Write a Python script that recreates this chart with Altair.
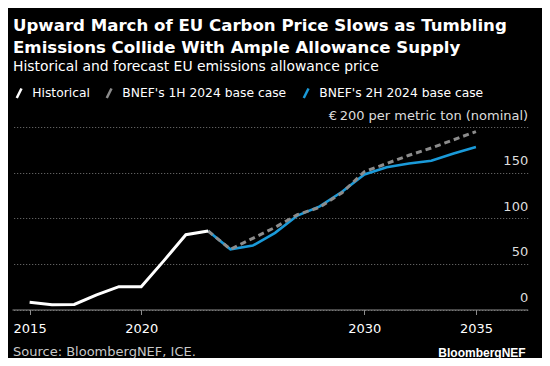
import altair as alt
import pandas as pd

TITLE = ["Upward March of EU Carbon Price Slows as Tumbling",
         "Emissions Collide With Ample Allowance Supply"]
SUBTITLE = "Historical and forecast EU emissions allowance price"
SERIES = ["Historical", "BNEF's 1H 2024 base case", "BNEF's 2H 2024 base case"]
COLORS = ["#ffffff", "#8c8c8c", "#1a9ad9"]

hist_years = [2015, 2016, 2017, 2018, 2019, 2020, 2021, 2022, 2023]
hist_values = [7.9, 5.3, 5.5, 16, 25, 25, 53, 82, 86]

fc_years = [2023, 2024, 2025, 2026, 2027, 2028, 2029, 2030, 2031, 2032, 2033, 2034, 2035]
h1_values = [86, 66, 78, 90, 104, 112, 128, 151, 160, 169, 177, 186, 195]
h2_values = [86, 66, 70, 84, 103, 113, 129, 148, 156, 160, 163, 171, 178]

x_ticks = [2015, 2020, 2030, 2035]
y_ticks = [0, 50, 100, 150, 200]
Y_TOP_LABEL = "€\u2009200 per metric ton (nominal)"
SOURCE = ["Source: BloombergNEF, ICE."]
BRAND = ["BloombergNEF"]

W, H = 515.7, 182.5

df_hist = pd.DataFrame({"year": hist_years, "value": hist_values, "series": SERIES[0]})
df_h1 = pd.DataFrame({"year": fc_years, "value": h1_values, "series": SERIES[1]})
df_h2 = pd.DataFrame({"year": fc_years, "value": h2_values, "series": SERIES[2]})

xscale = alt.Scale(domain=[2014.21, 2037.32], nice=False, zero=False)
yscale = alt.Scale(domain=[0, 200], nice=False)

xaxis = alt.Axis(values=x_ticks, format="d", title=None, grid=False,
                 domainColor="#8c8c8c", tickColor="#8c8c8c", tickSize=5,
                 labelColor="#ffffff", labelFontSize=13, labelFont="DejaVu Sans",
                 labelPadding=8)
yaxis = alt.Axis(orient="right", values=y_ticks, title=None, domain=False,
                 ticks=False, tickSize=0, labelAlign="right", labelPadding=0,
                 labelBaseline="alphabetic", labelOffset=-8, labelLimit=0,
                 labelExpr=f"datum.value == 200 ? '{Y_TOP_LABEL}' : datum.label",
                 grid=True, gridDash=[1, 2], gridColor="#777777", gridWidth=1,
                 labelColor="#dddddd", labelFontSize=13, labelFont="DejaVu Sans")

color = alt.Color("series:N", scale=alt.Scale(domain=SERIES, range=COLORS),
                  legend=alt.Legend(title=None, orient="none", legendX=1, legendY=-40,
                                    direction="horizontal", labelLimit=0,
                                    symbolType="M-0.5,1L0.5,-1", symbolSize=90,
                                    symbolStrokeWidth=2.5, labelColor="#ffffff",
                                    labelFontSize=12.3, labelFont="DejaVu Sans",
                                    labelOffset=7, columnPadding=11))


def line(df, **kw):
    return alt.Chart(df).mark_line(**kw).encode(
        x=alt.X("year:Q", scale=xscale, axis=xaxis),
        y=alt.Y("value:Q", scale=yscale, axis=yaxis),
        color=color,
    )


blue = line(df_h2, strokeWidth=2.6)
gray = line(df_h1, strokeWidth=3, strokeDash=[6, 4])
white = line(df_hist, strokeWidth=3)

src = alt.Chart(pd.DataFrame({"t": SOURCE})).mark_text(
    align="left", baseline="alphabetic", color="#c8c8c8", fontSize=13, font="DejaVu Sans"
).encode(text="t:N", x=alt.value(1), y=alt.value(H + 46))

brand = alt.Chart(pd.DataFrame({"t": BRAND})).mark_text(
    align="right", baseline="alphabetic", color="#ffffff", fontSize=12,
    font="Liberation Sans", fontWeight="bold"
).encode(text="t:N", x=alt.value(W - 2), y=alt.value(H + 47))

chart = alt.layer(blue, gray, white, src, brand).properties(
    width=W, height=H,
    autosize=alt.AutoSizeParams(type="none"),
    padding={"left": 4, "top": 119, "right": 14.3, "bottom": 48.5},
    background="#000000",
    title=alt.TitleParams(
        text=TITLE, subtitle=SUBTITLE, anchor="start", frame="group", orient="top",
        font="DejaVu Sans", fontSize=16.6, fontWeight="bold", color="#ffffff",
        lineHeight=22, subtitleFont="DejaVu Sans", subtitleFontSize=13.9,
        subtitleColor="#ffffff", subtitlePadding=4, offset=13, dx=1,
    ),
).configure_view(stroke=None)

chart.save("out.html", embed_options={"renderer": "svg", "actions": False})
